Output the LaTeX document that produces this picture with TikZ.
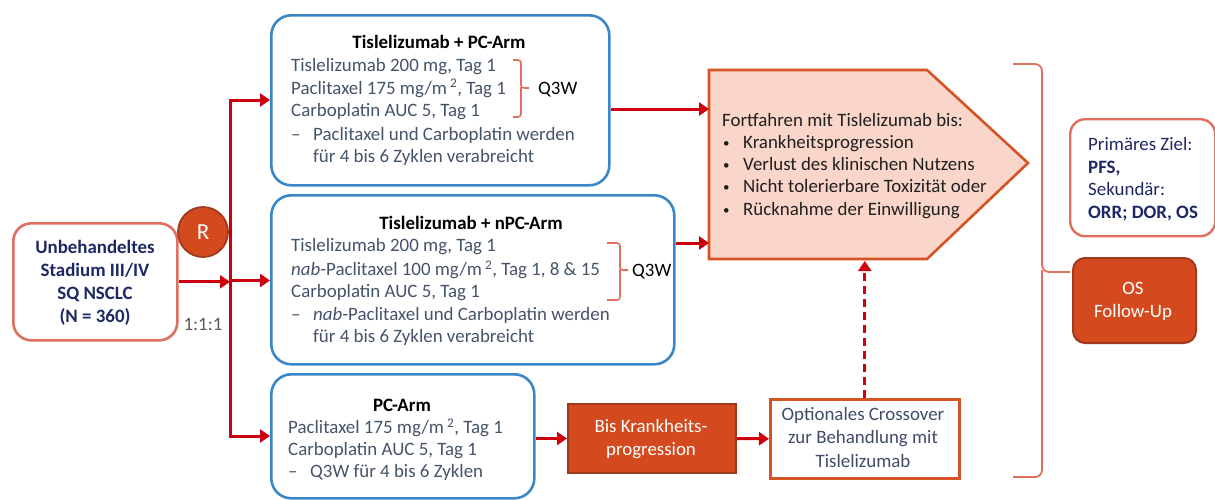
\documentclass[tikz,border=0pt]{standalone}
\usepackage{fontspec}
\setmainfont{Carlito}
\usetikzlibrary{arrows.meta}
\definecolor{redl}{RGB}{206,0,14}
\definecolor{bluel}{RGB}{58,135,200}
\definecolor{salmon}{RGB}{226,110,95}
\definecolor{oran}{RGB}{212,74,30}
\definecolor{orand}{RGB}{160,58,28}
\definecolor{pentfill}{RGB}{250,214,202}
\definecolor{pentline}{RGB}{214,83,35}
\definecolor{navy}{RGB}{30,40,100}
\definecolor{boxtext}{RGB}{68,84,106}
\definecolor{opttext}{RGB}{62,76,105}
\definecolor{graytxt}{RGB}{89,89,89}
\newcommand\fs{\fontsize{18.9}{22}\selectfont}
\newcommand\smallbul{{\fontsize{13}{13}\selectfont •}}
\begin{document}
\begin{tikzpicture}[x=1pt,y=-1pt,
  bluebox/.style={draw=bluel, line width=2.6pt, rounded corners=20pt, anchor=north west, fill=white, inner sep=0},
  lbox/.style={draw=salmon, line width=2.6pt, rounded corners=18pt, anchor=north west, fill=white, inner sep=0},
  primbox/.style={draw=salmon, line width=2.4pt, rounded corners=15pt, anchor=north west, fill=white, inner sep=0},
  obox/.style={draw=orand, line width=2pt, fill=oran, anchor=north west, inner sep=0},
  osbox/.style={draw=orand, line width=2pt, fill=oran, rounded corners=12pt, anchor=north west, inner sep=0},
  optbox/.style={draw=pentline, line width=2.6pt, fill=white, anchor=north west, inner sep=0},
  rcirc/.style={circle, draw=orand, line width=1.8pt, fill=oran, minimum size=50pt, inner sep=0, text=white, font=\fontsize{23}{26}\selectfont},
  arr/.style={draw=redl, line width=3pt, -{Triangle[length=10pt,width=13pt]}},
  dasharr/.style={draw=redl, line width=3pt, dash pattern=on 8pt off 5pt, -{Triangle[length=10pt,width=13pt]}},
  brk/.style={draw=salmon, line width=1.6pt, rounded corners=3pt},
  bigbrk/.style={draw=salmon, line width=1.8pt, rounded corners=7pt},
  txt/.style={anchor=base west, inner sep=0, font=\fs, text=boxtext},
  ttl/.style={anchor=base, inner sep=0, font=\fs\bfseries, text=black},
  ctxt/.style={anchor=base, inner sep=0, font=\fs},
]
\useasboundingbox (0,0) rectangle (1215,499);

% boxes
\node[lbox, minimum width=164pt, minimum height=117pt] (start) at (12,222) {};
\node[rcirc] (R) at (203,232) {R};
\node[bluebox, minimum width=338pt, minimum height=170pt] (b1) at (270,14) {};
\node[bluebox, minimum width=403pt, minimum height=169pt] (b2) at (270,194) {};
\node[bluebox, minimum width=263pt, minimum height=124pt] (b3) at (270,373) {};
\node[obox, minimum width=168pt, minimum height=69pt] (bis) at (567,403) {};
\node[optbox, minimum width=189pt, minimum height=79pt] (opt) at (769,398) {};
\node[primbox, minimum width=145pt, minimum height=117pt] (prim) at (1069,118) {};
\node[osbox, minimum width=123pt, minimum height=85pt] (os) at (1072,257) {};

% pentagon
\draw[draw=pentline, fill=pentfill, line width=2.6pt, line join=miter] (709,70) -- (927,70) -- (1028,163) -- (927,259) -- (709,259) -- cycle;
\coordinate (pA) at (709,109);
\coordinate (pB) at (709,243);
\coordinate (pC) at (864,261);

% start text
\node[ctxt, font=\fs\bfseries, text=navy] (s1) at (95,253) {Unbehandeltes};
\node[ctxt, font=\fs\bfseries, text=navy] (s2) at (95,276) {Stadium III/IV};
\node[ctxt, font=\fs\bfseries, text=navy] (s3) at (95,299) {SQ NSCLC};
\node[ctxt, font=\fs\bfseries, text=navy] (s4) at (95,322) {(N = 360)};
\node[ctxt, text=graytxt] (ratio) at (203,330) {1:1:1};

% connectors left
\coordinate (split) at (230,280.5);
\coordinate (top) at (230,100);
\coordinate (bot) at (230,436);
\draw[arr] (start.east) -- (start.east -| split);
\draw[arr, line join=miter] (split) -- (top) -- (top -| b1.west);
\draw[arr, line join=miter] (split) -- (bot) -- (bot -| b3.west);
\draw[arr] (split) -- (split -| b2.west);

% box 1 text
\node[ttl] (t1) at (439,48) {Tislelizumab + PC-Arm};
\node[txt] (b1a) at (291,71.5) {Tislelizumab 200 mg, Tag 1};
\node[txt] (b1b) at (291,94) {Paclitaxel 175 mg/m\,\textsuperscript{2}, Tag 1};
\node[txt] (b1c) at (291,116) {Carboplatin AUC 5, Tag 1};
\node[txt] (b1d) at (291,140.5) {–};
\node[txt] (b1e) at (313,140.5) {Paclitaxel und Carboplatin werden};
\node[txt] (b1f) at (313,162.5) {für 4 bis 6 Zyklen verabreicht};
\draw[brk] (513,60) -- (521,60) -- (521,88) -- (529,88);
\draw[brk] (521,87) -- (521,117) -- (513,117);
\node[txt, text=black] (q1) at (538,94) {Q3W};

% box 2 text
\node[ttl] (t2) at (471,229) {Tislelizumab + nPC-Arm};
\node[txt] (b2a) at (291,251.5) {Tislelizumab 200 mg, Tag 1};
\node[txt] (b2b) at (291,275.5) {\textit{nab}-Paclitaxel 100 mg/m\,\textsuperscript{2}, Tag 1, 8 \& 15};
\node[txt] (b2c) at (291,297.5) {Carboplatin AUC 5, Tag 1};
\node[txt] (b2d) at (291,320.5) {–};
\node[txt] (b2e) at (313,320.5) {\textit{nab}-Paclitaxel und Carboplatin werden};
\node[txt] (b2f) at (313,342.5) {für 4 bis 6 Zyklen verabreicht};
\draw[brk] (607,243) -- (620,243) -- (620,270) -- (628,270);
\draw[brk] (620,269) -- (620,300) -- (607,300);
\node[txt, text=black] (q2) at (632,276) {Q3W};

% box 3 text
\node[ttl] (t3) at (402,411) {PC-Arm};
\node[txt] (b3a) at (288,433.5) {Paclitaxel 175 mg/m\,\textsuperscript{2}, Tag 1};
\node[txt] (b3b) at (288,455.5) {Carboplatin AUC 5, Tag 1};
\node[txt] (b3c) at (288,477.5) {–};
\node[txt] (b3d) at (310,477.5) {Q3W für 4 bis 6 Zyklen};

% Bis box text
\node[ctxt, text=white] (bis1) at (651,432.5) {Bis Krankheits-};
\node[ctxt, text=white] (bis2) at (651,455.5) {progression};

% optional box text
\node[ctxt, text=opttext] (o1) at (863,420.5) {Optionales Crossover};
\node[ctxt, text=opttext] (o2) at (863,443.5) {zur Behandlung mit};
\node[ctxt, text=opttext] (o3) at (863,467) {Tislelizumab};

% pentagon text
\node[txt, text=black!88] (p0) at (722,126) {Fortfahren mit Tislelizumab bis:};
\node[txt, text=black!88] (pb1) at (723,147.5) {\smallbul};
\node[txt, text=black!88] (pt1) at (743,148.5) {Krankheitsprogression};
\node[txt, text=black!88] (pb2) at (723,169.5) {\smallbul};
\node[txt, text=black!88] (pt2) at (743,170.5) {Verlust des klinischen Nutzens};
\node[txt, text=black!88] (pb3) at (723,191.5) {\smallbul};
\node[txt, text=black!88] (pt3) at (743,192.5) {Nicht tolerierbare Toxizität oder};
\node[txt, text=black!88] (pb4) at (723,214.5) {\smallbul};
\node[txt, text=black!88] (pt4) at (743,215.5) {Rücknahme der Einwilligung};

% arrows to pentagon and lower chain
\draw[arr] (b1.east |- pA) -- (pA);
\draw[arr] (b2.east |- pB) -- (pB);
\draw[arr] (b3.east |- bis.west) -- (bis.west);
\draw[arr] (bis.east) -- (opt.west);
\draw[dasharr] (opt.north) -- (opt.north |- pC);

% big brace
\draw[bigbrk] (1013,64) -- (1042,64) -- (1042,272) -- (1070,272);
\draw[bigbrk] (1042,270) -- (1042,477) -- (1013,477);

% primary box text
\node[txt, text=navy] (pr1) at (1088,150.5) {Primäres Ziel:};
\node[txt, text=navy, font=\fs\bfseries] (pr2) at (1088,173) {PFS,};
\node[txt, text=navy] (pr3) at (1088,195.5) {Sekundär:};
\node[txt, text=navy, font=\fs\bfseries] (pr4) at (1088,218.5) {ORR; DOR, OS};

% OS box text
\node[ctxt, text=white] (os1) at (1133,294.5) {OS};
\node[ctxt, text=white] (os2) at (1133,317.5) {Follow-Up};
\end{tikzpicture}
\end{document}
